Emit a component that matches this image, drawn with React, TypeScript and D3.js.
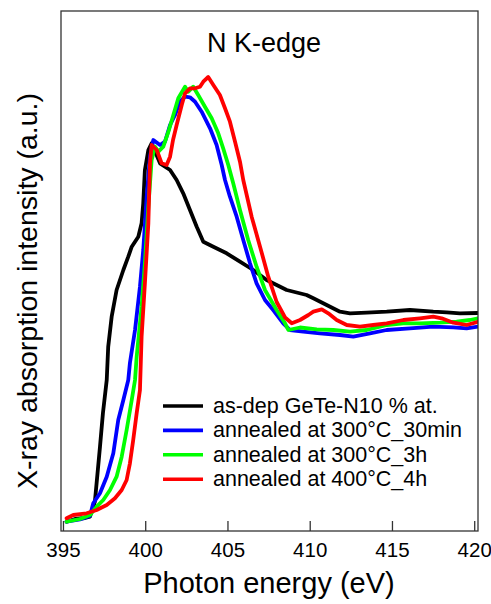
import React from "react";
import * as d3 from "d3";

const W = 491;
const H = 604;

const xTicks = [395, 400, 405, 410, 415, 420];
const seriesNames = [
  "as-dep GeTe-N10 % at.",
  "annealed at 300°C_30min",
  "annealed at 300°C_3h",
  "annealed at 400°C_4h",
];
const seriesColors = ["#000000", "#0000ff", "#00ff00", "#ff0000"];

const asDep: [number, number][] = [
  [395.19, 1.86], [395.7, 2.4], [396.31, 2.6], [396.61, 2.86], [396.91, 5.86],
  [397.22, 16.86], [397.4, 23.6], [397.63, 30.2], [397.72, 36.86], [397.93, 42.86],
  [398.23, 48.2], [398.64, 52.2], [398.94, 54.86], [399.15, 56.86], [399.55, 58.86],
  [399.75, 61.54], [399.85, 65.54], [399.95, 72.2], [400.16, 76.2], [400.36, 77.54],
  [400.87, 73.54], [401.48, 72.2], [401.88, 70.2], [402.28, 67.54], [402.69, 64.2],
  [403.1, 60.86], [403.5, 57.86], [404.11, 56.86], [404.92, 55.54], [405.73, 53.86],
  [406.54, 52.2], [407.35, 50.2], [408.57, 48.2], [409.78, 47.2], [410.19, 46.54],
  [411.0, 45.2], [411.81, 43.86], [412.42, 43.54], [413.43, 43.66], [414.65, 43.86],
  [416.06, 44.2], [417.48, 43.86], [418.3, 43.74], [419.1, 43.54], [420.2, 43.6],
];

const ann300_30: [number, number][] = [
  [395.19, 1.86], [396.0, 2.3], [396.61, 3.0], [396.81, 5.54], [397.22, 7.54],
  [397.63, 10.86], [398.03, 15.54], [398.33, 22.2], [398.64, 26.2], [398.94, 30.2],
  [399.04, 33.6], [399.35, 40.2], [399.65, 48.86], [399.85, 56.2], [400.06, 66.86],
  [400.26, 74.86], [400.46, 78.2], [400.87, 77.2], [401.17, 77.86], [401.48, 81.2],
  [401.78, 83.2], [402.08, 85.86], [402.39, 86.86], [402.69, 86.74], [403.0, 85.86],
  [403.4, 83.86], [403.91, 80.54], [404.31, 77.2], [404.62, 73.2], [404.82, 70.2],
  [405.12, 66.86], [405.53, 62.86], [405.93, 58.2], [406.34, 53.54], [406.74, 49.54],
  [407.25, 46.2], [407.75, 44.2], [408.36, 41.54], [408.77, 40.2], [409.58, 39.86],
  [410.59, 39.54], [411.81, 39.2], [412.62, 38.86], [413.63, 39.54], [414.65, 40.2],
  [416.06, 40.54], [417.48, 40.86], [418.7, 40.74], [419.51, 40.54], [420.2, 40.86],
];

const ann300_3h: [number, number][] = [
  [395.19, 1.86], [396.0, 2.4], [396.61, 3.2], [397.02, 4.86], [397.42, 6.2],
  [397.83, 8.2], [398.23, 10.86], [398.54, 14.86], [398.84, 20.2], [399.15, 26.2],
  [399.35, 30.2], [399.45, 34.86], [399.75, 44.86], [399.95, 53.54], [400.16, 64.86],
  [400.36, 74.2], [400.56, 76.86], [400.77, 75.86], [401.07, 76.86], [401.38, 79.86],
  [401.68, 83.2], [401.98, 86.54], [402.39, 88.86], [402.59, 87.86], [402.89, 88.86],
  [403.19, 87.2], [403.6, 84.86], [404.01, 82.54], [404.41, 79.54], [404.71, 76.54],
  [405.02, 73.2], [405.32, 69.54], [405.73, 64.2], [406.23, 58.2], [406.74, 52.86],
  [407.25, 48.2], [407.96, 44.2], [408.47, 41.54], [408.67, 40.2], [409.38, 40.7],
  [410.4, 40.34], [411.41, 40.2], [412.42, 39.86], [413.43, 40.2], [414.65, 41.2],
  [415.66, 41.54], [416.67, 41.54], [417.89, 41.66], [418.9, 41.86], [419.71, 42.2],
  [420.2, 42.54],
];

const ann400_4h: [number, number][] = [
  [395.19, 2.54], [395.6, 3.2], [396.41, 3.54], [397.02, 4.2], [397.63, 5.2],
  [398.13, 6.54], [398.54, 8.2], [398.84, 10.2], [399.04, 13.54], [399.24, 18.2],
  [399.45, 23.54], [399.65, 28.2], [399.75, 38.86], [399.95, 49.54], [400.16, 61.54],
  [400.26, 73.54], [400.36, 77.2], [400.67, 76.2], [400.97, 73.54], [401.27, 73.2],
  [401.48, 74.86], [401.66, 78.2], [401.88, 81.2], [402.19, 85.2], [402.39, 87.54],
  [402.69, 88.54], [403.0, 88.54], [403.3, 88.86], [403.5, 89.86], [403.8, 90.8],
  [404.11, 89.2], [404.51, 87.2], [404.82, 84.54], [405.12, 81.86], [405.43, 77.86],
  [405.73, 73.86], [405.93, 70.2], [406.44, 62.86], [406.95, 56.86], [407.45, 50.86],
  [407.96, 45.8], [408.47, 42.7], [408.88, 41.54], [409.38, 42.2], [409.89, 43.2],
  [410.19, 43.86], [410.7, 44.34], [411.1, 43.54], [411.61, 42.2], [412.22, 41.2],
  [413.02, 40.86], [413.83, 41.2], [414.65, 41.54], [415.66, 42.2], [416.67, 42.54],
  [417.48, 42.86], [417.99, 42.54], [418.7, 41.66], [419.51, 41.2], [420.2, 41.86],
];

const allSeries = [asDep, ann300_30, ann300_3h, ann400_4h];

const FONT = "'Liberation Sans', Arial, Helvetica, sans-serif";

export default function App() {
  const left = 61;
  const right = 478;
  const top = 11;
  const bottom = 531;

  const x = d3.scaleLinear().domain([394.85, 420.2]).range([left, right]);
  const y = d3.scaleLinear().domain([0, 104]).range([bottom, top]);

  const line = d3
    .line<[number, number]>()
    .x((d) => x(d[0]))
    .y((d) => y(d[1]))
    .curve(d3.curveLinear);

  const legendX = 163;
  const legendY0 = 406;
  const legendDy = 24.4;

  return (
    <svg
      width={W}
      height={H}
      viewBox={`0 0 ${W} ${H}`}
      style={{ position: "absolute", left: 0, top: 0, background: "#fff" }}
    >
      <defs>
        <clipPath id="plotClip">
          <rect x={left} y={top} width={right - left} height={bottom - top} />
        </clipPath>
      </defs>
      <rect x={0} y={0} width={W} height={H} fill="#fff" />

      <g clipPath="url(#plotClip)">
        {allSeries.map((s, i) => (
          <path
            key={i}
            d={line(s) || ""}
            fill="none"
            stroke={seriesColors[i]}
            strokeWidth={3.8}
            strokeLinejoin="round"
            strokeLinecap="round"
          />
        ))}
      </g>

      <rect
        x={left}
        y={top}
        width={right - left}
        height={bottom - top}
        fill="none"
        stroke="#333"
        strokeWidth={1.3}
      />

      {xTicks.map((t) => (
        <g key={t}>
          <line x1={x(t)} x2={x(t)} y1={bottom} y2={bottom - 10} stroke="#333" strokeWidth={1.3} />
          <text
            x={x(t)}
            y={557}
            textAnchor="middle"
            fontFamily={FONT}
            fontSize={20.5}
            fill="#000"
          >
            {t}
          </text>
        </g>
      ))}

      <text x={269} y={593} textAnchor="middle" fontFamily={FONT} fontSize={29} fill="#000">
        Photon energy (eV)
      </text>

      <text
        transform={`translate(37, 291) rotate(-90)`}
        textAnchor="middle"
        fontFamily={FONT}
        fontSize={28.5}
        fill="#000"
      >
        X-ray absorption intensity (a.u.)
      </text>

      <text x={264} y={52} textAnchor="middle" fontFamily={FONT} fontSize={27} fill="#000">
        N K-edge
      </text>

      {seriesNames.map((name, i) => (
        <g key={name}>
          <line
            x1={legendX}
            x2={legendX + 40}
            y1={legendY0 + i * legendDy}
            y2={legendY0 + i * legendDy}
            stroke={seriesColors[i]}
            strokeWidth={3.6}
          />
          <text
            x={legendX + 50}
            y={legendY0 + i * legendDy + 7}
            fontFamily={FONT}
            fontSize={21.5}
            fill="#000"
          >
            {name}
          </text>
        </g>
      ))}
    </svg>
  );
}
